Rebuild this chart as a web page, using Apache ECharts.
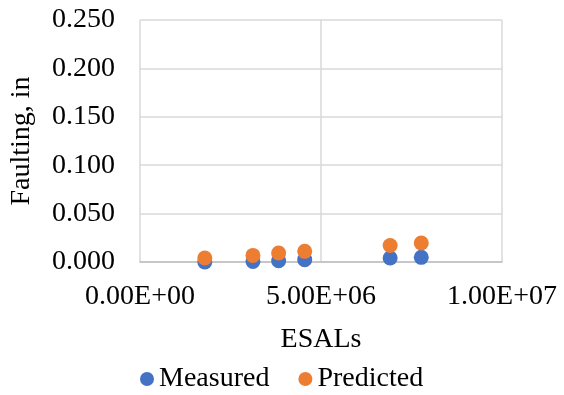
<!DOCTYPE html>
<html>
<head>
<meta charset="utf-8">
<script src="https://cdn.jsdelivr.net/npm/echarts@6/dist/echarts.min.js"></script>
<style>
  html, body { margin: 0; padding: 0; background: #fff; }
  #chart { width: 564px; height: 395px; }
</style>
</head>
<body>
<div id="chart"></div>
<script>
// ESAL counts at each survey
const esals = [1.79e6, 3.12e6, 3.83e6, 4.55e6, 6.91e6, 7.77e6];
// Faulting (in)
const measured = [0.0000, 0.0006, 0.0013, 0.0024, 0.0041, 0.0048];
const predicted = [0.0041, 0.0068, 0.0093, 0.0110, 0.0171, 0.0196];

const seriesNames = ['Measured', 'Predicted'];
const seriesColors = ['#4472C4', '#ED7D31'];

const font = 'Liberation Serif';

function sci(v) {
  if (v === 0) return '0.00E+00';
  const exp = Math.floor(Math.log10(Math.abs(v)));
  const mant = v / Math.pow(10, exp);
  const e = (exp < 0 ? '-' : '+') + String(Math.abs(exp)).padStart(2, '0');
  return mant.toFixed(2) + 'E' + e;
}

const pairs = (ys) => esals.map((x, i) => [x, ys[i]]);

const chart = echarts.init(document.getElementById('chart'));
chart.setOption({
  animation: false,
  textStyle: { fontFamily: font },
  grid: { left: 137, right: 62, top: 20, bottom: 133 },
  legend: {
    data: seriesNames,
    left: 135,
    top: 360,
    icon: 'circle',
    itemWidth: 14,
    itemHeight: 14,
    itemGap: 29,
    textStyle: { fontFamily: font, fontSize: 28, color: '#000' }
  },
  xAxis: {
    type: 'value',
    min: 0,
    max: 1e7,
    interval: 5e6,
    name: 'ESALs',
    nameLocation: 'middle',
    nameGap: 64,
    nameTextStyle: { fontFamily: font, fontSize: 28, color: '#000' },
    axisLine: { show: true, lineStyle: { color: '#bfbfbf', width: 1.5 } },
    axisTick: { show: false },
    axisLabel: { fontFamily: font, fontSize: 28, color: '#000', margin: 21, formatter: sci },
    splitLine: { show: true, lineStyle: { color: '#d9d9d9', width: 1.5 } }
  },
  yAxis: {
    type: 'value',
    min: 0,
    max: 0.25,
    interval: 0.05,
    name: 'Faulting, in',
    nameLocation: 'middle',
    nameGap: 104,
    nameTextStyle: { fontFamily: font, fontSize: 28, color: '#000' },
    axisLine: { show: false },
    axisTick: { show: false },
    axisLabel: { fontFamily: font, fontSize: 28, color: '#000', margin: 25, formatter: (v) => v.toFixed(3) },
    splitLine: { show: true, lineStyle: { color: '#d9d9d9', width: 1.5 } }
  },
  series: [
    {
      name: seriesNames[0],
      type: 'scatter',
      symbolSize: 15,
      itemStyle: { color: seriesColors[0], opacity: 1 },
      data: pairs(measured)
    },
    {
      name: seriesNames[1],
      type: 'scatter',
      symbolSize: 15,
      itemStyle: { color: seriesColors[1], opacity: 1 },
      data: pairs(predicted)
    }
  ]
});
</script>
</body>
</html>
